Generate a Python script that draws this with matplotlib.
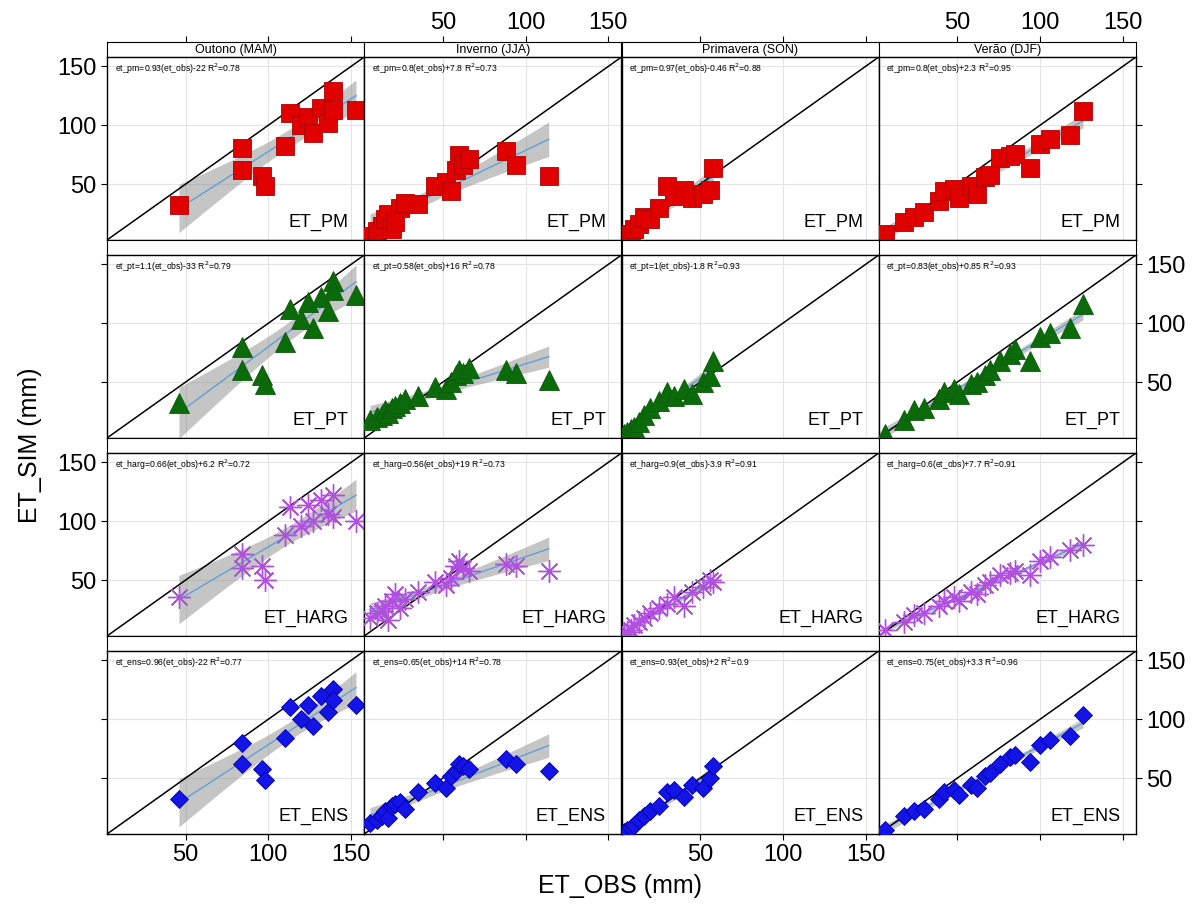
"""ET_SIM vs ET_OBS scatter grid: rows = method, cols = season."""

import matplotlib.pyplot as plt
import numpy as np

plt.rcParams["font.family"] = ["Liberation Sans Narrow", "Liberation Sans", "DejaVu Sans"]

SEASONS = ["Outono (MAM)", "Inverno (JJA)", "Primavera (SON)", "Verão (DJF)"]
METHODS = ["ET_PM", "ET_PT", "ET_HARG", "ET_ENS"]

# observed ET per season (shared by all methods)
obs_mam = [46, 84, 84, 96, 98, 110, 113, 120, 124, 127, 132, 136, 139, 139, 153]
obs_jja = [6, 10, 13, 15, 17, 19, 21, 24, 27, 35, 45, 52, 55, 58, 60, 62, 66, 88, 94, 114]
obs_son = [4, 6, 8, 10, 13, 16, 20, 25, 30, 34, 40, 45, 52, 56, 58]
obs_djf = [6, 18, 24, 30, 39, 42, 48, 51, 58, 62, 67, 70, 76, 82, 85, 94, 100, 106, 118, 126]

# simulated ET, one list per method and season
pm_mam = [32, 81, 62, 57, 48, 82, 110, 100, 107, 93, 115, 102, 129, 113, 113]
pm_jja = [6, 10, 14, 20, 25, 12, 18, 30, 34, 33, 48, 52, 44, 62, 75, 66, 71, 78, 66, 57]
pm_son = [5, 7, 8, 12, 16, 22, 20, 30, 48, 40, 45, 38, 42, 45, 64]
pm_djf = [8, 18, 22, 26, 36, 44, 46, 38, 48, 42, 56, 58, 72, 74, 76, 64, 84, 88, 92, 112]

pt_mam = [32, 80, 60, 56, 48, 84, 112, 104, 118, 96, 122, 110, 136, 128, 124]
pt_jja = [18, 20, 22, 26, 24, 28, 30, 32, 36, 38, 46, 44, 50, 56, 60, 58, 62, 60, 58, 52]
pt_son = [6, 8, 10, 12, 16, 22, 28, 34, 42, 38, 44, 40, 50, 55, 68]
pt_djf = [6, 18, 26, 28, 36, 42, 44, 40, 48, 50, 56, 60, 68, 74, 78, 68, 88, 92, 96, 116]

harg_mam = [36, 72, 60, 62, 50, 88, 112, 96, 114, 100, 118, 106, 122, 104, 100]
harg_jja = [18, 22, 24, 28, 16, 32, 38, 26, 34, 40, 48, 46, 52, 62, 66, 60, 58, 64, 62, 58]
harg_son = [4, 6, 8, 12, 14, 18, 22, 26, 30, 36, 28, 40, 44, 50, 48]
harg_djf = [8, 14, 20, 22, 28, 32, 36, 32, 40, 38, 46, 48, 54, 56, 58, 54, 66, 70, 76, 80]

ens_mam = [32, 80, 62, 58, 48, 84, 110, 100, 112, 94, 120, 106, 126, 116, 112]
ens_jja = [12, 14, 18, 22, 16, 26, 28, 30, 24, 38, 46, 42, 52, 56, 62, 60, 58, 66, 62, 56]
ens_son = [4, 6, 8, 10, 14, 18, 22, 26, 38, 40, 34, 44, 42, 50, 60]
ens_djf = [6, 18, 22, 24, 32, 38, 40, 36, 44, 42, 52, 54, 62, 68, 70, 64, 78, 82, 86, 104]

# regression text printed in each panel
EQ_TEXT = [
    ["et_pm=0.93(et_obs)-22 R$^2$=0.78", "et_pm=0.8(et_obs)+7.8 R$^2$=0.73",
     "et_pm=0.97(et_obs)-0.46 R$^2$=0.88", "et_pm=0.8(et_obs)+2.3 R$^2$=0.95"],
    ["et_pt=1.1(et_obs)-33 R$^2$=0.79", "et_pt=0.58(et_obs)+16 R$^2$=0.78",
     "et_pt=1(et_obs)-1.8 R$^2$=0.93", "et_pt=0.83(et_obs)+0.85 R$^2$=0.93"],
    ["et_harg=0.66(et_obs)+6.2 R$^2$=0.72", "et_harg=0.56(et_obs)+19 R$^2$=0.73",
     "et_harg=0.9(et_obs)-3.9 R$^2$=0.91", "et_harg=0.6(et_obs)+7.7 R$^2$=0.91"],
    ["et_ens=0.96(et_obs)-22 R$^2$=0.77", "et_ens=0.65(et_obs)+14 R$^2$=0.78",
     "et_ens=0.93(et_obs)+2 R$^2$=0.9", "et_ens=0.75(et_obs)+3.3 R$^2$=0.96"],
]

OBS = [obs_mam, obs_jja, obs_son, obs_djf]
SIM = [
    [pm_mam, pm_jja, pm_son, pm_djf],
    [pt_mam, pt_jja, pt_son, pt_djf],
    [harg_mam, harg_jja, harg_son, harg_djf],
    [ens_mam, ens_jja, ens_son, ens_djf],
]

MARKERS = [
    dict(marker="s", ms=13.5, mfc="#e00000", mec="#b00000", mew=0.6),
    dict(marker="^", ms=14, mfc="#0b6b0b", mec="#0b5a0b", mew=0.6),
    dict(marker=(8, 2, 0), ms=16, mfc="none", mec="#b04fe0", mew=1.0),
    dict(marker="D", ms=9.5, mfc="#1414e6", mec="#0000b0", mew=0.6),
]

W, H = 1194, 911
LEFT, RIGHT = 107, 1136
COL_W = (RIGHT - LEFT) / 4
TOP0, STRIP_H, PANEL_H, ROW_STEP = 42, 15, 183, 198
LIMS = (2.5, 158)
TICKS = [50, 100, 150]
TICK_FS = 17


def _rect(x, y, w, h):
    return [x / W, 1 - (y + h) / H, w / W, h / H]


def _draw_fit(ax, x, y):
    x = np.asarray(x, float)
    y = np.asarray(y, float)
    b, a = np.polyfit(x, y, 1)
    n = len(x)
    resid = y - (a + b * x)
    s = np.sqrt(np.sum(resid ** 2) / (n - 2))
    xs = np.linspace(x.min(), x.max(), 100)
    se = s * np.sqrt(1 / n + (xs - x.mean()) ** 2 / np.sum((x - x.mean()) ** 2))
    fit = a + b * xs
    ax.fill_between(xs, fit - 2.1 * se, fit + 2.1 * se, color="#8c8c8c", alpha=0.5, lw=0, zorder=2)
    ax.plot(xs, fit, color="#5fa0d8", lw=1.0, zorder=3)


def main():
    fig = plt.figure(figsize=(W / 100, H / 100), dpi=100)

    for r in range(4):
        for c in range(4):
            x0 = LEFT + c * COL_W
            y_strip = TOP0 + r * ROW_STEP

            sax = fig.add_axes(_rect(x0, y_strip, COL_W, STRIP_H))
            sax.set_xlim(*LIMS)
            sax.set_ylim(0, 1)
            sax.set_yticks([])
            sax.set_xticks(TICKS)
            for sp in sax.spines.values():
                sp.set_linewidth(0.8)
            if r == 0:
                sax.text(0.5, 0.5, SEASONS[c], transform=sax.transAxes,
                         ha="center", va="center", fontsize=9)
                sax.tick_params(axis="x", bottom=False, labelbottom=False, top=True,
                                labeltop=(c % 2 == 1), direction="out", length=4,
                                labelsize=TICK_FS, pad=2)
            else:
                sax.tick_params(axis="x", bottom=False, labelbottom=False,
                                top=False, labeltop=False)

            ax = fig.add_axes(_rect(x0, y_strip + STRIP_H, COL_W, PANEL_H))
            ax.set_xlim(*LIMS)
            ax.set_ylim(*LIMS)
            ax.set_xticks(TICKS)
            ax.set_yticks(TICKS)
            ax.grid(True, color="#e4e4e4", lw=0.8, zorder=0)
            for sp in ax.spines.values():
                sp.set_linewidth(1.0)
            ax.set_axisbelow(True)

            ax.tick_params(axis="x", direction="out", length=4, labelsize=TICK_FS,
                           bottom=(r == 3), top=False,
                           labelbottom=(r == 3 and c % 2 == 0), labeltop=False)
            ax.tick_params(axis="y", direction="out", length=4, labelsize=TICK_FS,
                           left=(c == 0), right=(c == 3),
                           labelleft=(c == 0 and r % 2 == 0),
                           labelright=(c == 3 and r % 2 == 1))

            ax.plot(LIMS, LIMS, color="black", lw=1.1, zorder=4)
            _draw_fit(ax, OBS[c], SIM[r][c])
            ax.plot(OBS[c], SIM[r][c], ls="none", zorder=5, **MARKERS[r])

            ax.text(0.03, 0.975, EQ_TEXT[r][c], transform=ax.transAxes,
                    ha="left", va="top", fontsize=6.2)
            ax.text(0.94, 0.05, METHODS[r], transform=ax.transAxes,
                    ha="right", va="bottom", fontsize=13)

    fig.text(30 / W, 1 - 445 / H, "ET_SIM (mm)", rotation=90,
             ha="center", va="center", fontsize=18)
    fig.text(620 / W, 1 - 886 / H, "ET_OBS (mm)",
             ha="center", va="center", fontsize=18)

    fig.savefig("out.png", dpi=100)


if __name__ == "__main__":
    main()
